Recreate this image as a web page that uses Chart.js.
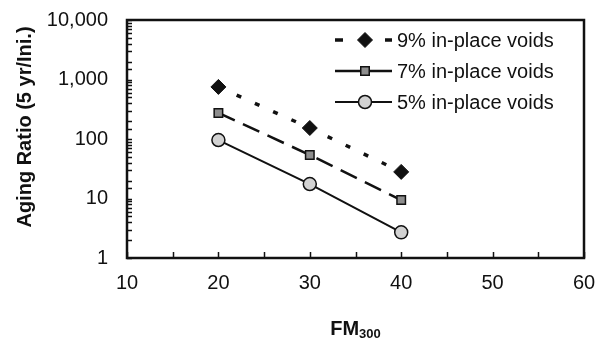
<!DOCTYPE html>
<html>
<head>
<meta charset="utf-8">
<script src="https://cdn.jsdelivr.net/npm/chart.js@4/dist/chart.umd.min.js"></script>
<style>
  html, body { margin: 0; padding: 0; background: #fff; }
  #wrap { width: 597px; height: 339px; position: relative; }
</style>
</head>
<body>
<div id="wrap"><canvas id="c" width="597" height="339"></canvas></div>
<script>
// ---- data ----
const fmValues = [20, 30, 40];
const voids9 = [750, 153, 28];
const voids7 = [274, 54, 9.4];
const voids5 = [96, 17.5, 2.7];
const seriesLabels = ['9% in-place voids', '7% in-place voids', '5% in-place voids'];
const xTickLabels = [10, 20, 30, 40, 50, 60];
const yTickLabels = [1, 10, 100, 1000, 10000];
const yTitle = 'Aging Ratio (5 yr/Ini.)';
const xTitleMain = 'FM';
const xTitleSub = '300';

const FONT = '"Liberation Sans", Arial, Helvetica, sans-serif';
const INK = '#111';

function pts(vals) { return fmValues.map((x, i) => ({ x: x, y: vals[i] })); }

const datasets = [
  { label: seriesLabels[0], data: pts(voids9), borderColor: INK, borderWidth: 3.5,
    borderDash: [5, 15], pointStyle: 'rectRot', pointRadius: 7.5, pointBackgroundColor: INK,
    pointBorderColor: INK, pointBorderWidth: 1 },
  { label: seriesLabels[1], data: pts(voids7), borderColor: INK, borderWidth: 2.5,
    borderDash: [18, 9], pointStyle: 'rect', pointRadius: 6, pointBackgroundColor: '#8e8e8e',
    pointBorderColor: INK, pointBorderWidth: 1.5 },
  { label: seriesLabels[2], data: pts(voids5), borderColor: INK, borderWidth: 2,
    borderDash: [], pointStyle: 'circle', pointRadius: 6.5, pointBackgroundColor: '#d2d2d2',
    pointBorderColor: INK, pointBorderWidth: 1.5 }
];
datasets.forEach(d => { d.showLine = true; d.fill = false; d.tension = 0; d.pointHoverRadius = d.pointRadius; });

const decorPlugin = {
  id: 'decor',
  afterDraw(chart) {
    const ctx = chart.ctx;
    const a = chart.chartArea;
    const xs = chart.scales.x, ys = chart.scales.y;
    ctx.save();
    ctx.strokeStyle = INK;
    ctx.lineWidth = 1.5;
    ctx.beginPath();
    ys.ticks.forEach(t => {
      const y = Math.round(ys.getPixelForValue(t.value)) + 0.5;
      ctx.moveTo(a.left, y); ctx.lineTo(a.left + 5, y);
    });
    xs.ticks.forEach(t => {
      const x = Math.round(xs.getPixelForValue(t.value)) + 0.5;
      ctx.moveTo(x, a.bottom); ctx.lineTo(x, a.bottom - 6);
    });
    ctx.stroke();
    ctx.lineWidth = 2.5;
    ctx.strokeRect(a.left, a.top, a.right - a.left, a.bottom - a.top);

    // y title
    ctx.fillStyle = INK;
    ctx.font = 'bold 20px ' + FONT;
    ctx.textAlign = 'center';
    ctx.textBaseline = 'middle';
    ctx.save();
    ctx.translate(25, 127);
    ctx.rotate(-Math.PI / 2);
    ctx.fillText(yTitle, 0, 0);
    ctx.restore();

    // x title with subscript
    ctx.textAlign = 'left';
    ctx.textBaseline = 'alphabetic';
    ctx.font = 'bold 20px ' + FONT;
    const wMain = ctx.measureText(xTitleMain).width;
    ctx.font = 'bold 13px ' + FONT;
    const wSub = ctx.measureText(xTitleSub).width;
    const cx = (a.left + a.right) / 2;
    const x0 = cx - (wMain + wSub) / 2;
    ctx.font = 'bold 20px ' + FONT;
    ctx.fillText(xTitleMain, x0, 335);
    ctx.font = 'bold 13px ' + FONT;
    ctx.fillText(xTitleSub, x0 + wMain, 338);

    // legend (inside plot, no box)
    const rowY = [40, 71, 102];
    chart.data.datasets.forEach((d, i) => {
      const y = rowY[i];
      ctx.save();
      ctx.strokeStyle = d.borderColor;
      ctx.lineWidth = d.borderWidth;
      ctx.beginPath();
      if (i === 0) {
        ctx.moveTo(335, y); ctx.lineTo(343, y);
        ctx.moveTo(385, y); ctx.lineTo(392, y);
      } else {
        ctx.moveTo(335, y); ctx.lineTo(392, y);
      }
      ctx.stroke();
      ctx.restore();
      ctx.save();
      ctx.fillStyle = d.pointBackgroundColor;
      ctx.strokeStyle = d.pointBorderColor;
      ctx.lineWidth = d.pointBorderWidth;
      Chart.helpers.drawPoint(ctx, { pointStyle: d.pointStyle, rotation: 0, borderWidth: d.pointBorderWidth, radius: d.pointRadius }, 365, y);
      ctx.restore();
    });

    ctx.fillStyle = INK;
    ctx.font = '20px ' + FONT;
    ctx.textAlign = 'left';
    ctx.textBaseline = 'middle';
    seriesLabels.forEach((t, i) => ctx.fillText(t, 397, rowY[i] + 1));
    ctx.restore();
  }
};

new Chart(document.getElementById('c'), {
  type: 'scatter',
  data: { datasets: datasets },
  options: {
    responsive: false,
    animation: false,
    devicePixelRatio: 1,
    layout: { padding: { left: 0, right: 13, top: 20, bottom: 0 } },
    plugins: { legend: { display: false }, tooltip: { enabled: false }, title: { display: false } },
    scales: {
      x: {
        type: 'linear', min: 10, max: 60,
        grid: { display: false, drawTicks: false },
        border: { display: false },
        ticks: {
          stepSize: 5, padding: 13, color: INK, autoSkip: false, maxRotation: 0,
          font: { family: FONT, size: 20 },
          callback: v => xTickLabels.includes(v) ? String(v) : ''
        },
        afterFit: s => { s.height = 81; s.paddingLeft = 0; s.paddingRight = 0; }
      },
      y: {
        type: 'logarithmic', min: 1, max: 10000,
        grid: { display: false, drawTicks: false },
        border: { display: false },
        ticks: {
          padding: 19, color: INK, autoSkip: false,
          font: { family: FONT, size: 20 },
          callback: v => yTickLabels.includes(v) ? v.toLocaleString('en-US') : ''
        },
        afterFit: s => { s.width = 127; s.paddingTop = 0; s.paddingBottom = 0; }
      }
    }
  },
  plugins: [decorPlugin]
});
</script>
</body>
</html>
